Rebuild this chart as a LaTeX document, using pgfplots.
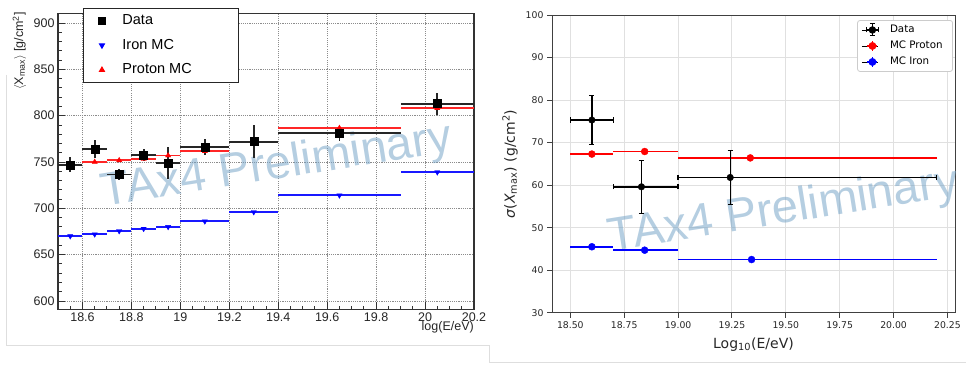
\documentclass[border=0pt]{standalone}
\usepackage{pgfplots}
\pgfplotsset{compat=1.18}
\usepackage{pgfplotstable}
\usepackage{fontspec}
\setmainfont{Liberation Sans}
\newfontfamily\djv{DejaVu Sans}
\definecolor{wm}{RGB}{120,165,200}

\pgfplotstableread{
x y ex ey
18.55 747.0 0.05 8
18.65 764.0 0.05 10
18.75 736.5 0.05 6
18.85 757.5 0.05 6.5
18.95 749.0 0.05 17
19.10 766.5 0.10 8.5
19.30 772.0 0.10 18
19.65 781.0 0.25 8
20.05 813.0 0.15 12
}\dataL
\pgfplotstableread{
x y ex
18.65 750.0 0.05
18.75 751.8 0.05
18.85 753.3 0.05
18.95 757.0 0.05
19.10 761.6 0.10
19.30 771.0 0.10
19.65 786.6 0.25
20.05 808.0 0.15
}\protonL
\pgfplotstableread{
x y ex
18.55 670.0 0.05
18.65 672.0 0.05
18.75 675.5 0.05
18.85 678.0 0.05
18.95 680.0 0.05
19.10 686.0 0.10
19.30 696.0 0.10
19.65 714.0 0.25
20.05 739.0 0.15
}\ironL

% right panel: data points, their bin edges (x) and error ranges (y)
\pgfplotstableread{
x y
18.600 75.3
18.830 59.6
19.242 61.8
}\dataR
\pgfplotstableread{
x y
18.5 75.3
18.7 75.3
nan nan
18.7 59.6
19.0 59.6
nan nan
19.0 61.8
20.2 61.8
}\dataRh
\pgfplotstableread{
x y
18.600 69.5
18.600 81.1
nan nan
18.830 53.4
18.830 65.8
nan nan
19.242 55.4
19.242 68.2
}\dataRv
\pgfplotstableread{
x y
18.5 74.69
18.5 75.91
nan nan
18.7 74.69
18.7 75.91
nan nan
18.7 58.99
18.7 60.21
nan nan
19.0 58.99
19.0 60.21
nan nan
19.0 61.19
19.0 62.41
nan nan
20.2 61.19
20.2 62.41
nan nan
18.588 69.5
18.612 69.5
nan nan
18.588 81.1
18.612 81.1
nan nan
18.818 53.4
18.842 53.4
nan nan
18.818 65.8
18.842 65.8
nan nan
19.230 55.4
19.254 55.4
nan nan
19.230 68.2
19.254 68.2
}\dataRcaps
\pgfplotstableread{
x y exm exp
18.600 67.3 0.100 0.100
18.845 67.9 0.145 0.155
19.335 66.4 0.335 0.865
}\protonR
\pgfplotstableread{
x y exm exp
18.600 45.5 0.100 0.100
18.845 44.7 0.145 0.155
19.341 42.5 0.341 0.859
}\ironR

\begin{document}
\begin{tikzpicture}
\path[use as bounding box] (0pt,0pt) rectangle (966pt,367pt);
\draw[black!13,line width=1pt] (6.7pt,292pt) -- (6.7pt,22pt) -- (489pt,22pt) -- (489pt,4.3pt) -- (966pt,4.3pt);

% ---------------- left panel (ROOT style) ----------------
\begin{axis}[
  at={(58pt,57.7pt)}, anchor=south west,
  scale only axis, width=416pt, height=295.5pt,
  xmin=18.5, xmax=20.2, ymin=591, ymax=910,
  xtick={18.6,18.8,19,19.2,19.4,19.6,19.8,20,20.2},
  xticklabels={18.6,18.8,19,19.2,19.4,19.6,19.8,20,20.2},
  minor xtick={18.55,18.65,18.7,18.75,18.85,18.9,18.95,19.05,19.1,19.15,19.25,19.3,19.35,19.45,19.5,19.55,19.65,19.7,19.75,19.85,19.9,19.95,20.05,20.1,20.15},
  ytick={600,650,700,750,800,850,900},
  minor y tick num=4,
  tick align=inside, tick pos=left,
  major tick length=7pt, minor tick length=3.5pt,
  axis line style={black!80, line width=1.1pt},
  every tick/.style={black!80, line width=0.9pt},
  grid=major,
  major grid style={black!45, dash pattern=on 1.1pt off 1.1pt, line width=0.8pt},
  ticklabel style={font=\fontsize{12.5}{14}\selectfont, text=black!85},
  /pgf/number format/assume math mode=true,
  legend style={at={(0.06,1.02)}, anchor=north west, draw=black!85, line width=1pt, fill=white,
    font=\fontsize{14.5}{16}\selectfont, inner xsep=15pt, inner ysep=1.5pt, row sep=2.5pt,
    nodes={inner sep=4pt, text height=11pt, text depth=3pt}},
  legend cell align=left,
]
\node[rotate=9, anchor=base west, text=wm, opacity=0.55, inner sep=0pt,
  font=\fontsize{47}{51}\selectfont] at (axis cs:18.685,702) {TAx4 Preliminary};

\addlegendimage{only marks, mark=square*, black, mark size=3.5pt}
\addlegendentry{\makebox[110pt][l]{\hspace{13pt}Data}}
\addlegendimage{only marks, mark=triangle*, blue, mark size=2.8pt, mark options={rotate=180}}
\addlegendentry{\makebox[110pt][l]{\hspace{13pt}Iron MC}}
\addlegendimage{only marks, mark=triangle*, red, mark size=2.8pt}
\addlegendentry{\makebox[110pt][l]{\hspace{13pt}Proton MC}}

\addplot[forget plot, only marks, blue, mark=triangle*, mark size=3pt, mark options={rotate=180},
  error bars/.cd, x dir=both, x explicit, error mark=none,
  error bar style={line width=1.8pt, blue!90}]
  table[x=x, y=y, x error=ex]{\ironL};
\addplot[forget plot, only marks, red, mark=triangle*, mark size=3pt,
  error bars/.cd, x dir=both, x explicit, error mark=none,
  error bar style={line width=1.8pt, red!85}]
  table[x=x, y=y, x error=ex]{\protonL};
\addplot[forget plot, only marks, black, mark=square*, mark size=4pt,
  error bars/.cd, x dir=both, x explicit, y dir=both, y explicit, error mark=none,
  error bar style={line width=1.8pt, black!85}]
  table[x=x, y=y, x error=ex, y error=ey]{\dataL};
\end{axis}
\node[rotate=90, anchor=north east, inner sep=0pt, font=\fontsize{12.5}{14}\selectfont, text=black!85]
  at (12.5pt,355pt) {$\langle$X\textsubscript{max}$\rangle$ [g/cm\textsuperscript{2}]};
\node[anchor=north east, inner sep=0pt, font=\fontsize{12.5}{14}\selectfont, text=black!85]
  at (474pt,46pt) {log(E/eV)};

% ---------------- right panel (matplotlib style) ----------------
\begin{axis}[
  at={(552pt,54.3pt)}, anchor=south west,
  scale only axis, width=403pt, height=297.7pt,
  xmin=18.415, xmax=20.285, ymin=30, ymax=100,
  xtick={18.5,18.75,19,19.25,19.5,19.75,20,20.25},
  xticklabels={18.50,18.75,19.00,19.25,19.50,19.75,20.00,20.25},
  ytick={30,40,50,60,70,80,90,100},
  tick align=outside, tick pos=left,
  major tick length=5pt,
  axis line style={black!75, line width=1pt},
  every tick/.style={black!75, line width=1pt},
  grid=major,
  major grid style={black!12, line width=1pt},
  ticklabel style={font=\djv\fontsize{9.3}{11}\selectfont, text=black!85},
  /pgf/number format/assume math mode=true,
  unbounded coords=jump,
  legend style={at={(0.995,0.983)}, anchor=north east, draw=black!20, rounded corners=2.5pt,
    line width=0.8pt, fill=white, font=\djv\fontsize{10.3}{12}\selectfont,
    inner xsep=4pt, inner ysep=2.6pt, row sep=2.2pt,
    nodes={inner sep=2pt, text height=7.8pt, text depth=2pt}},
  legend cell align=left,
]
\node[rotate=9, anchor=base west, text=wm, opacity=0.55, inner sep=0pt,
  font=\fontsize{47}{51}\selectfont] at (axis cs:18.685,44.5) {TAx4 Preliminary};

\addlegendimage{legend image code/.code={
  \path (-10.5pt,0pt) -- (6pt,0pt);
  \draw[black, line width=1.2pt] (-6pt,0pt)--(6pt,0pt) (0pt,-6pt)--(0pt,6pt);
  \draw[black, line width=1pt] (-6pt,-2.5pt)--(-6pt,2.5pt) (6pt,-2.5pt)--(6pt,2.5pt)
        (-2.5pt,-6pt)--(2.5pt,-6pt) (-2.5pt,6pt)--(2.5pt,6pt);
  \fill[black] (0pt,0pt) circle (3.3pt);}}
\addlegendentry{\hspace*{9pt}Data\hspace*{4pt}}
\addlegendimage{legend image code/.code={
  \path (-10.5pt,0pt) -- (6pt,0pt);
  \draw[red, line width=1.3pt] (-5pt,0pt)--(5pt,0pt) (0pt,-5pt)--(0pt,5pt);
  \fill[red] (0pt,0pt) circle (3.5pt);}}
\addlegendentry{\hspace*{9pt}MC Proton\hspace*{4pt}}
\addlegendimage{legend image code/.code={
  \path (-10.5pt,0pt) -- (6pt,0pt);
  \draw[blue, line width=1.3pt] (-5pt,0pt)--(5pt,0pt) (0pt,-5pt)--(0pt,5pt);
  \fill[blue] (0pt,0pt) circle (3.5pt);}}
\addlegendentry{\hspace*{9pt}MC Iron\hspace*{4pt}}

\addplot[forget plot, only marks, red, mark=*, mark size=3.5pt,
  error bars/.cd, x dir=both, x explicit, error mark=none,
  error bar style={line width=1.5pt, draw=red}]
  table[x=x, y=y, x error minus=exm, x error plus=exp]{\protonR};
\addplot[forget plot, only marks, blue, mark=*, mark size=3.5pt,
  error bars/.cd, x dir=both, x explicit, error mark=none,
  error bar style={line width=1.5pt, draw=blue}]
  table[x=x, y=y, x error minus=exm, x error plus=exp]{\ironR};
% data: bin-width bars, error ranges, caps, points
\addplot[forget plot, black, line width=1.4pt, mark=none] table[x=x, y=y]{\dataRh};
\addplot[forget plot, black, line width=1.4pt, mark=none] table[x=x, y=y]{\dataRv};
\addplot[forget plot, black, line width=1.2pt, mark=none] table[x=x, y=y]{\dataRcaps};
\addplot[forget plot, only marks, black, mark=*, mark size=3.3pt] table[x=x, y=y]{\dataR};
\end{axis}
\node[rotate=90, inner sep=0pt, font=\djv\fontsize{14}{16}\selectfont, text=black!85]
  at (510pt,203pt) {{\itshape σ}(\textit{X}\textsubscript{max}) (g/cm\textsuperscript{2})};
\node[inner sep=0pt, font=\djv\fontsize{14}{16}\selectfont, text=black!85]
  at (753.5pt,22.5pt) {Log\textsubscript{10}(E/eV)};
\end{tikzpicture}
\end{document}
